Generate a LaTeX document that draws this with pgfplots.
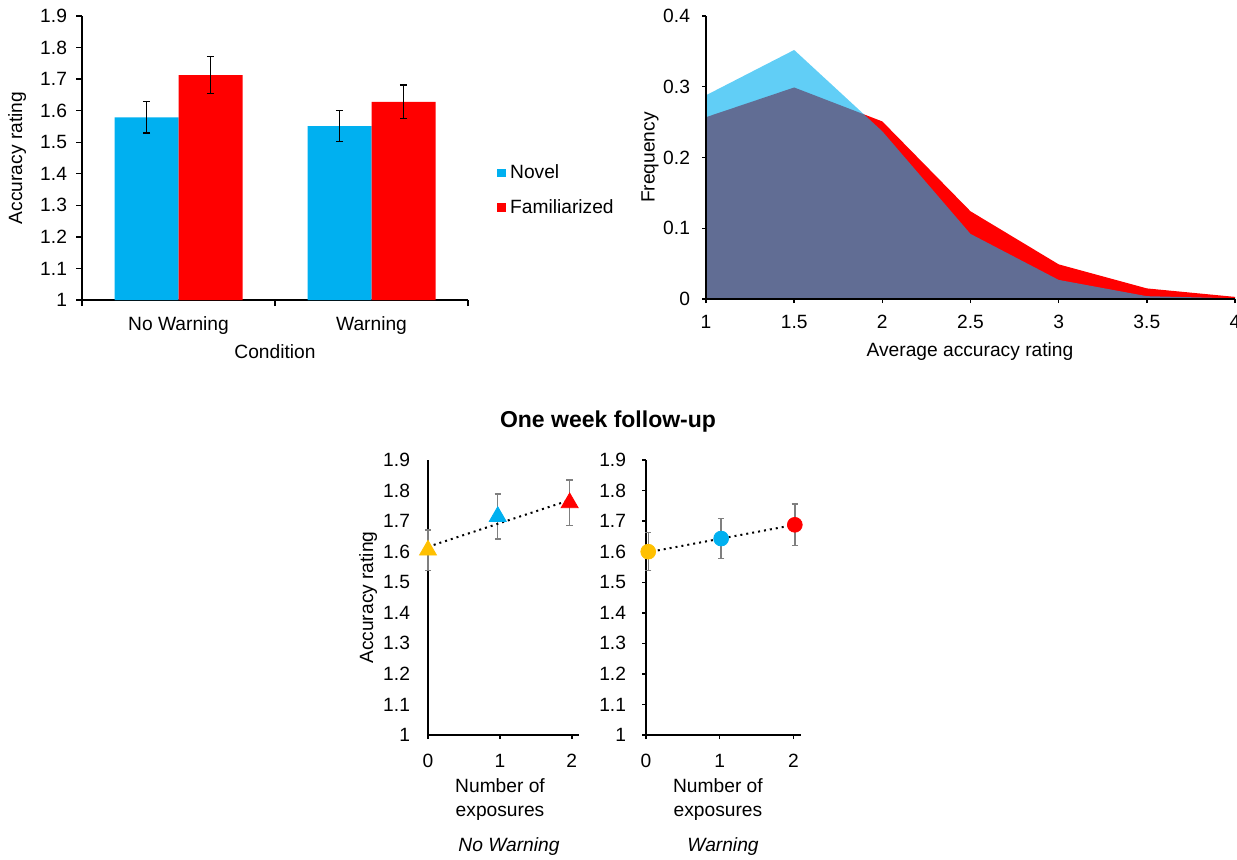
\documentclass[border=0pt]{standalone}
\usepackage{fontspec}
\setmainfont{Liberation Sans}
\usepackage{pgfplots}
\pgfplotsset{compat=1.18}

\definecolor{novel}{HTML}{00B0F0}
\definecolor{famil}{HTML}{FF0000}
\definecolor{zero}{HTML}{FFC000}
\definecolor{errgray}{HTML}{7F7F7F}

\pgfplotsset{
  panel/.style={
    scale only axis,
    anchor=south west,
    axis lines=left,
    axis line style={-, line width=0.7pt, black},
    tick align=outside,
    tick style={black, line width=0.7pt},
    major tick length=2.5pt,
    /pgf/number format/assume math mode=true,
    tick label style={font=\fontsize{9.6}{11}\selectfont},
    label style={font=\fontsize{9.6}{11}\selectfont},
  },
  grayerr/.style={
    error bars/.cd, y dir=both, y explicit,
    error bar style={errgray, line width=0.7pt},
    error mark options={errgray, rotate=90, mark size=1.6pt, line width=0.7pt},
  },
  blackerr/.style={
    error bars/.cd, y dir=both, y explicit,
    error bar style={black, line width=0.75pt},
    error mark options={black, rotate=90, mark size=1.8pt, line width=0.75pt},
  },
}

\begin{document}
\begin{tikzpicture}[font=\fontsize{9.6}{11}\selectfont]
\path[use as bounding box] (0,0) rectangle (618.5pt,-429.5pt);

% --- accuracy by condition (bars)
\begin{axis}[panel,
  at={(41pt,-150pt)}, width=193pt, height=142pt,
  xmin=-0.5, xmax=1.5, ymin=1, ymax=1.9,
  ytick={1,1.1,1.2,1.3,1.4,1.5,1.6,1.7,1.8,1.9},
  yticklabel style={xshift=-1pt},
  xtick={-0.5,0.5,1.5}, xticklabels=\empty,
  extra x ticks={0,1}, extra x tick labels={No Warning,Warning},
  extra x tick style={major tick length=0pt, tick label style={yshift=-5pt}},
  major tick length=3pt,
  ybar=0pt, bar width=32pt,
  xlabel={Condition}, ylabel={Accuracy rating},
  xlabel style={at={(axis description cs:0.5,-0.183)}, anchor=center},
  ylabel style={at={(axis description cs:-0.168,0.5)}, anchor=center},
  legend style={at={(axis description cs:1.075,0.386)}, anchor=west, draw=none, fill=none,
    inner sep=0pt, row sep=5pt, font=\fontsize{9.6}{11}\selectfont},
  legend cell align=left,
  legend image code/.code={\fill[#1] (0pt,-2.2pt) rectangle (4.4pt,2.2pt);},
]
\addplot[fill=novel, draw=none, blackerr]
  coordinates {(0,1.579) +- (0,0.050) (1,1.551) +- (0,0.049)};
\addplot[fill=famil, draw=none, blackerr]
  coordinates {(0,1.713) +- (0,0.058) (1,1.628) +- (0,0.053)};
\legend{Novel, Familiarized}
\end{axis}

% --- distribution of ratings (areas)
\begin{axis}[panel,
  at={(353pt,-149.5pt)}, width=264.5pt, height=141.5pt,
  xmin=1, xmax=4, ymin=0, ymax=0.4,
  xtick={1,1.5,2,2.5,3,3.5,4}, ytick={0,0.1,0.2,0.3,0.4},
  xticklabel style={yshift=-2.5pt}, yticklabel style={xshift=-2.5pt},
  major tick length=2pt, axis on top,
  xlabel={Average accuracy rating}, ylabel={Frequency},
  xlabel style={at={(axis description cs:0.499,-0.187)}, anchor=center},
  ylabel style={at={(axis description cs:-0.106,0.5)}, anchor=center},
]
\addplot[fill=famil, draw=none] coordinates {
  (1,0.257) (1.5,0.299) (2,0.251) (2.5,0.124) (3,0.049) (3.5,0.015) (4,0.003)
} \closedcycle;
\addplot[fill=novel, fill opacity=0.62, draw=none] coordinates {
  (1,0.288) (1.5,0.352) (2,0.237) (2.5,0.092) (3,0.027) (3.5,0.004) (4,0.001)
} \closedcycle;
\end{axis}

\node[font=\fontsize{11.5}{13}\selectfont\bfseries] at (304pt,-211pt) {One week follow-up};

% --- follow-up, no warning
\begin{axis}[panel,
  at={(214pt,-367.5pt)}, width=75.5pt, height=137.5pt,
  xmin=0, xmax=2.1, ymin=1, ymax=1.9,
  xtick={0,1,2}, ytick=\empty,
  xticklabel style={yshift=-4pt},
  extra y ticks={1,1.1,1.2,1.3,1.4,1.5,1.6,1.7,1.8,1.9},
  extra y tick style={major tick length=0pt, tick label style={xshift=-5.5pt}},
  major tick length=2pt, clip=false,
  xlabel={Number of\\exposures}, ylabel={Accuracy rating},
  xlabel style={at={(axis description cs:0.477,-0.236)}, anchor=center, align=center,
    font=\fontsize{9.6}{12}\selectfont},
  ylabel style={at={(axis description cs:-0.397,0.5)}, anchor=center},
]
\addplot[only marks, mark=triangle*, mark size=4.9pt, color=zero, grayerr]
  coordinates {(0,1.605) +- (0,0.066)};
\addplot[only marks, mark=triangle*, mark size=4.9pt, color=novel, grayerr]
  coordinates {(0.97,1.715) +- (0,0.074)};
\addplot[only marks, mark=triangle*, mark size=4.9pt, color=famil, grayerr]
  coordinates {(1.97,1.760) +- (0,0.075)};
\addplot[black, line width=1pt, dash pattern=on 1pt off 2pt, no marks]
  coordinates {(0,1.616) (2,1.771)};
\node[font=\fontsize{9.6}{11}\selectfont\itshape] at (axis description cs:0.536,-0.406) {No Warning};
\end{axis}

% --- follow-up, warning
\begin{axis}[panel,
  at={(323pt,-367.5pt)}, width=77.35pt, height=137.5pt,
  xmin=0, xmax=2.1, ymin=1, ymax=1.9,
  xtick={0,1,2}, ytick={1,1.1,1.2,1.3,1.4,1.5,1.6,1.7,1.8,1.9},
  xticklabel style={yshift=-4pt}, yticklabel style={xshift=-4.5pt},
  major tick length=2pt, clip=false,
  xlabel={Number of\\exposures},
  xlabel style={at={(axis description cs:0.465,-0.236)}, anchor=center, align=center,
    font=\fontsize{9.6}{12}\selectfont},
]
\addplot[only marks, mark=*, mark size=3.7pt, color=zero, grayerr]
  coordinates {(0.03,1.600) +- (0,0.062)};
\addplot[only marks, mark=*, mark size=3.7pt, color=novel, grayerr]
  coordinates {(1.02,1.643) +- (0,0.065)};
\addplot[only marks, mark=*, mark size=3.7pt, color=famil, grayerr]
  coordinates {(2.02,1.688) +- (0,0.068)};
\addplot[black, line width=1pt, dash pattern=on 1pt off 2pt, no marks]
  coordinates {(0,1.597) (2,1.687)};
\node[font=\fontsize{9.6}{11}\selectfont\itshape] at (axis description cs:0.498,-0.406) {Warning};
\end{axis}
\end{tikzpicture}
\end{document}
